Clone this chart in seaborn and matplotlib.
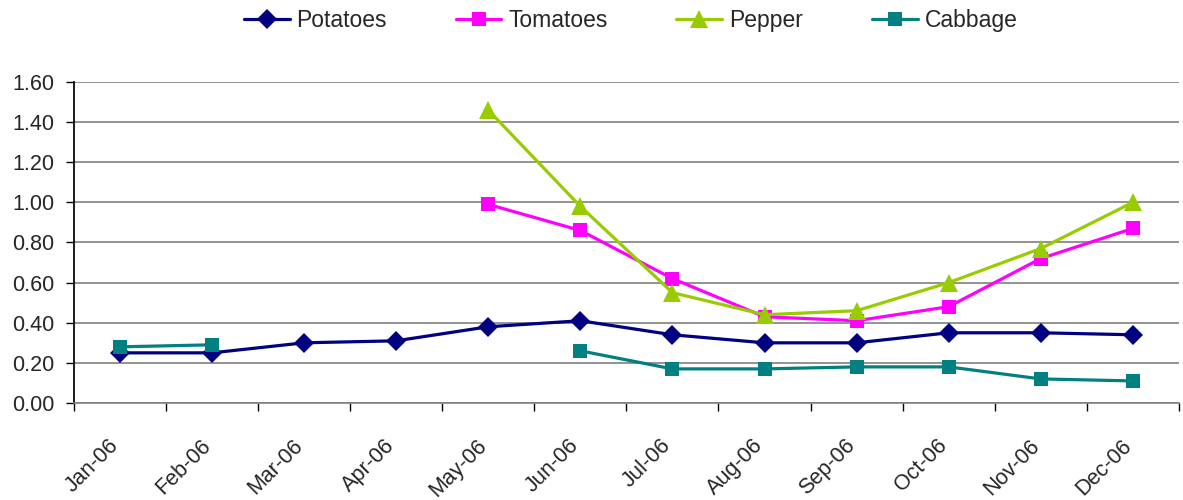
import numpy as np
import pandas as pd
import matplotlib
matplotlib.use("Agg")
import matplotlib.pyplot as plt
import matplotlib.transforms as mtransforms
import seaborn as sns

# valores
meses = ["Jan-06", "Feb-06", "Mar-06", "Apr-06", "May-06", "Jun-06",
         "Jul-06", "Aug-06", "Sep-06", "Oct-06", "Nov-06", "Dec-06"]
potatoes = [0.25, 0.25, 0.30, 0.31, 0.38, 0.41, 0.34, 0.30, 0.30, 0.35, 0.35, 0.34]
tomatoes = [np.nan, np.nan, np.nan, np.nan, 0.99, 0.86, 0.62, 0.43, 0.41, 0.48, 0.72, 0.87]
pepper = [np.nan, np.nan, np.nan, np.nan, 1.46, 0.98, 0.55, 0.44, 0.46, 0.60, 0.77, 1.00]
cabbage = [0.28, 0.29, np.nan, np.nan, np.nan, 0.26, 0.17, 0.17, 0.18, 0.18, 0.12, 0.11]

cores = {"Potatoes": "#000080", "Tomatoes": "#FF00FF",
         "Pepper": "#99CC00", "Cabbage": "#008080"}
marcas = {"Potatoes": "D", "Tomatoes": "s", "Pepper": "^", "Cabbage": "s"}

sns.set_theme(style="white")
plt.rcParams["font.family"] = ["Liberation Sans", "DejaVu Sans"]

wide = pd.DataFrame({"Potatoes": potatoes, "Tomatoes": tomatoes,
                     "Pepper": pepper, "Cabbage": cabbage})
wide["pos"] = np.arange(len(meses))

# formato longo, com um id de segmento para quebrar a linha nos vazios
partes = []
for nome in ["Potatoes", "Tomatoes", "Pepper", "Cabbage"]:
    s = wide[["pos", nome]].rename(columns={nome: "valor"})
    s["serie"] = nome
    s["seg"] = nome + s["valor"].isna().cumsum().astype(str)
    partes.append(s.dropna())
longo = pd.concat(partes, ignore_index=True)

fig = plt.figure(figsize=(11.83, 5.0), dpi=100)
ax = fig.add_axes([0.0625, 0.194, 0.934, 0.642])

sns.lineplot(data=longo, x="pos", y="valor", hue="serie", style="serie",
             units="seg", estimator=None, palette=cores, markers=marcas,
             dashes=False, linewidth=2.3, markersize=10, markeredgewidth=0,
             sort=False, ax=ax)

ax.set_xlim(-0.5, len(meses) - 0.5)
ax.set_ylim(0, 1.6)
ax.set_yticks(np.arange(0, 1.61, 0.2))
ax.set_yticklabels([f"{v:.2f}" for v in np.arange(0, 1.61, 0.2)], fontsize=15.5)
ax.set_xticks(range(len(meses)))
ax.set_xticklabels(meses, rotation=45, ha="right", rotation_mode="anchor", fontsize=15.5)
ax.set_xticks(np.arange(-0.5, len(meses), 1), minor=True)
ax.tick_params(axis="x", which="major", length=0, pad=16)
ax.tick_params(axis="x", which="minor", length=6, width=1, color="black", direction="out", bottom=True)
ax.tick_params(axis="y", length=6, width=1, color="black", direction="out", left=True, pad=8)
# rótulos do eixo x um pouco mais à esquerda e abaixo, como no Excel
desloca = mtransforms.ScaledTranslation(-12 / 100, -10 / 100, fig.dpi_scale_trans)
for rot in ax.get_xticklabels():
    rot.set_transform(rot.get_transform() + desloca)
ax.yaxis.grid(True, color="#808080", linewidth=1.2)
ax.set_axisbelow(True)
for lado in ["top", "right"]:
    ax.spines[lado].set_visible(False)
ax.spines["left"].set_color("black")
ax.spines["bottom"].set_color("#808080")
ax.spines["bottom"].set_linewidth(1.2)
ax.set_xlabel("")
ax.set_ylabel("")

# triângulos do Excel são um pouco maiores
for ln in ax.lines:
    if ln.get_marker() == "^":
        ln.set_markersize(13)

sns.move_legend(ax, "upper center", bbox_to_anchor=(0.533, 1.0),
                bbox_transform=fig.transFigure, ncol=4, frameon=False, title=None,
                fontsize=16.5, handlelength=2.0, handletextpad=0.3, columnspacing=3.0,
                borderaxespad=0.0)
for h in ax.get_legend().legend_handles:
    if h.get_marker() == "^":
        h.set_markersize(13)

fig.savefig("out.png", dpi=100)
